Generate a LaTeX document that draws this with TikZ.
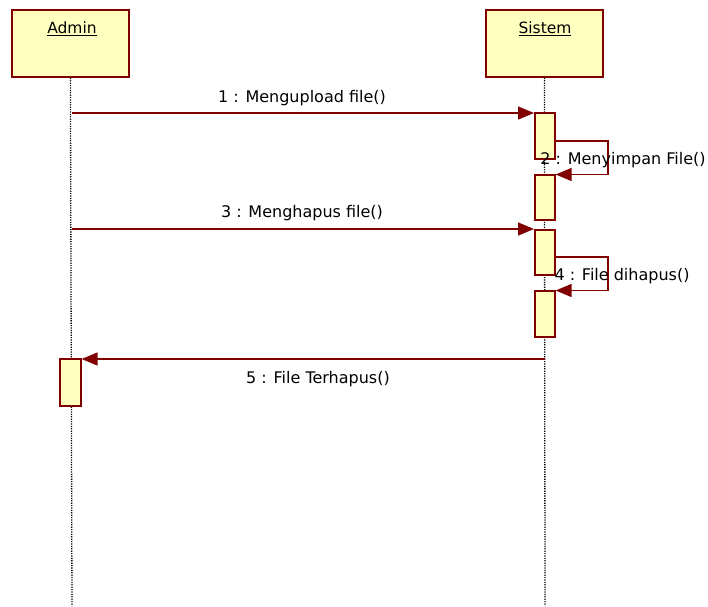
\documentclass[tikz,border=0pt]{standalone}
\usepackage{fontspec}
\setmainfont{DejaVu Sans}
\usetikzlibrary{arrows.meta}
\definecolor{dred}{HTML}{800000}
\definecolor{boxfill}{HTML}{FFFFC0}
\begin{document}
\begin{tikzpicture}[x=1pt,y=-1pt,
  obj/.style={draw=dred,line width=1.8pt,fill=boxfill,minimum width=117pt,minimum height=67pt,anchor=north west,inner sep=0pt},
  act/.style={draw=dred,line width=1.6pt,fill=boxfill,minimum width=20pt,anchor=north west,inner sep=0pt},
  life/.style={dash pattern=on 1.2pt off 1.2pt,line width=1.3pt,black},
  msg/.style={dred,line width=1.4pt,-{Triangle[length=16pt,width=13pt]}},
  lbl/.style={font=\fontsize{16}{18}\selectfont,inner sep=0pt}]
\useasboundingbox (0,0) rectangle (708,606);
% objects
\node[obj] (admin) at (11,9) {};
\node[obj] (sistem) at (485,9) {};
\node[lbl,font=\fontsize{15.5}{18}\selectfont] (adminlbl) at (72,29) {\underline{Admin}};
\node[lbl,font=\fontsize{15.5}{18}\selectfont] (sistemlbl) at (545,29) {\underline{Sistem}};
% lifelines
\coordinate (aend) at (72,606);
\coordinate (send) at (545,606);
\draw[life] (admin.south) -- (aend);
\draw[life] (sistem.south) -- (send);
% activations
\node[act,minimum height=46pt] (s1) at (534,112) {};
\node[act,minimum height=45pt] (s2) at (534,174) {};
\node[act,minimum height=45pt] (s3) at (534,229) {};
\node[act,minimum height=46pt] (s4) at (534,290) {};
\node[act,minimum height=47pt,minimum width=21pt] (a1) at (59,358) {};
% messages
\coordinate (m1s) at (72,113);
\draw[msg] (m1s) -- (s1.west |- m1s);
\node[lbl] (l1) at (302,98) {1 : Mengupload file()};
\coordinate (m2a) at (556,141);
\coordinate (m2b) at (608,141);
\coordinate (m2c) at (608,174.5);
\draw[msg] (m2a) -- (m2b) -- (m2c) -- (s2.north east |- m2c);
\node[lbl] (l2) at (623,160) {2 : Menyimpan File()};
\coordinate (m3s) at (72,229);
\draw[msg] (m3s) -- (s3.west |- m3s);
\node[lbl] (l3) at (302,213) {3 : Menghapus file()};
\coordinate (m4a) at (556,257);
\coordinate (m4b) at (608,257);
\coordinate (m4c) at (608,290.5);
\draw[msg] (m4a) -- (m4b) -- (m4c) -- (s4.north east |- m4c);
\node[lbl] (l4) at (622,276) {4 : File dihapus()};
\coordinate (m5s) at (545,359);
\draw[msg] (m5s) -- (a1.east |- m5s);
\node[lbl] (l5) at (318,379) {5 : File Terhapus()};
\end{tikzpicture}
\end{document}
